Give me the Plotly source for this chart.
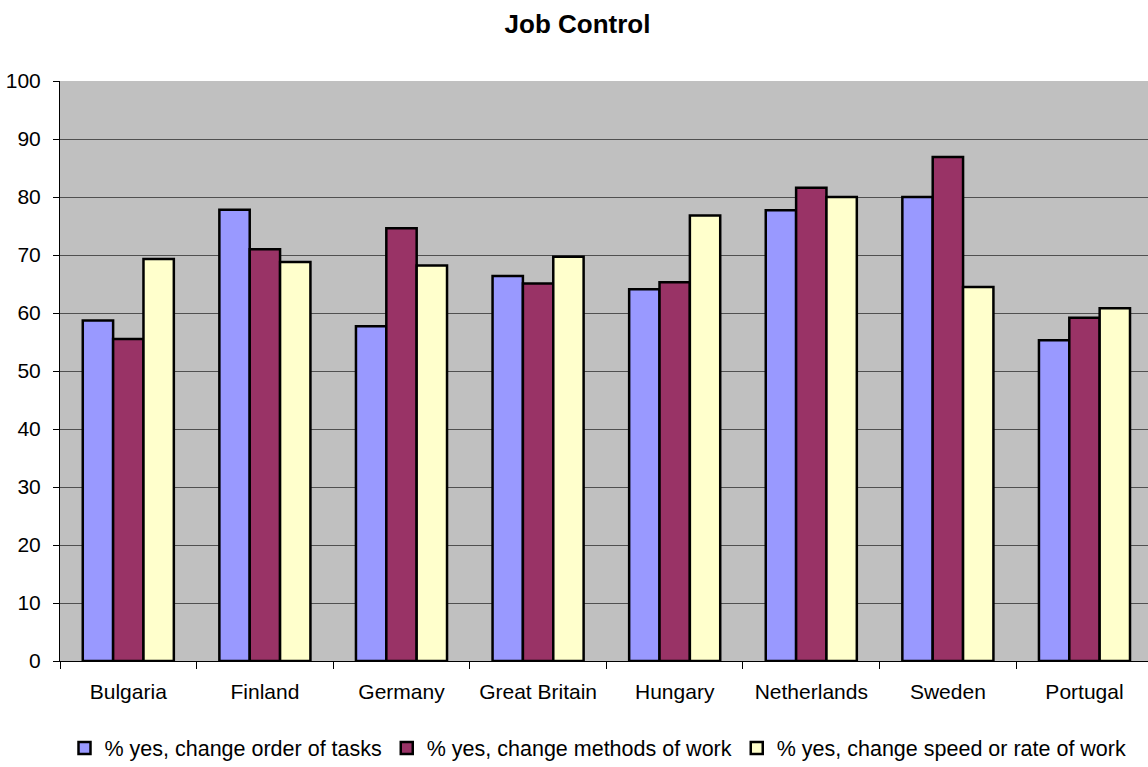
import plotly.graph_objects as go

countries = ["Bulgaria", "Finland", "Germany", "Great Britain", "Hungary",
             "Netherlands", "Sweden", "Portugal"]
order_tasks = [58.7, 77.8, 57.7, 66.4, 64.1, 77.7, 80.0, 55.3]
methods_work = [55.5, 71.0, 74.6, 65.1, 65.3, 81.6, 86.9, 59.2]
speed_work = [69.3, 68.8, 68.2, 69.7, 76.8, 80.0, 64.5, 60.8]
series_names = ["% yes, change order of tasks",
                "% yes, change methods of work",
                "% yes, change speed or rate of work"]
colors = ["#9999FF", "#993366", "#FFFFCC"]

FONT = "Liberation Sans, Arial, sans-serif"

fig = go.Figure()
for name, vals, col in zip(series_names, [order_tasks, methods_work, speed_work], colors):
    fig.add_trace(go.Bar(
        x=countries, y=vals, name=name,
        marker=dict(color=col, line=dict(color="black", width=2.5)),
    ))

fig.update_layout(
    width=1148, height=767,
    paper_bgcolor="white", plot_bgcolor="#C0C0C0",
    margin=dict(l=60, r=0, t=81, b=106, autoexpand=False),
    barmode="group", bargap=1/3, bargroupgap=0,
    font=dict(family=FONT, size=21, color="black"),
    title=dict(text="<b>Job Control</b>", x=577.5/1148, xref="container",
               y=1 - 24/767, yanchor="middle", xanchor="center",
               font=dict(family=FONT, size=26, color="black")),
    showlegend=True,
    legend=dict(orientation="h", xref="container", x=598/1148, xanchor="center",
                yref="container", y=1 - 748/767, yanchor="middle",
                font=dict(family=FONT, size=21.5, color="black"),
                bgcolor="rgba(0,0,0,0)"),
)
fig.update_xaxes(
    type="category", range=[-0.5, 7.465],
    showline=True, linecolor="black", linewidth=1,
    ticks="outside", tickson="boundaries", ticklen=7, tickcolor="black",
    showgrid=False, ticklabelstandoff=12,
    tickfont=dict(family=FONT, size=21),
)
fig.update_yaxes(
    range=[0, 100], dtick=10, tick0=0,
    showline=True, linecolor="black", linewidth=1,
    ticks="outside", ticklen=6, tickcolor="black",
    showgrid=True, gridcolor="#505050", gridwidth=1,
    zeroline=False, ticklabelstandoff=8,
    tickfont=dict(family=FONT, size=21),
)

fig.write_html("out.html", config={"displayModeBar": False},
               post_script="document.body.style.margin='0';document.body.style.overflow='hidden';")
